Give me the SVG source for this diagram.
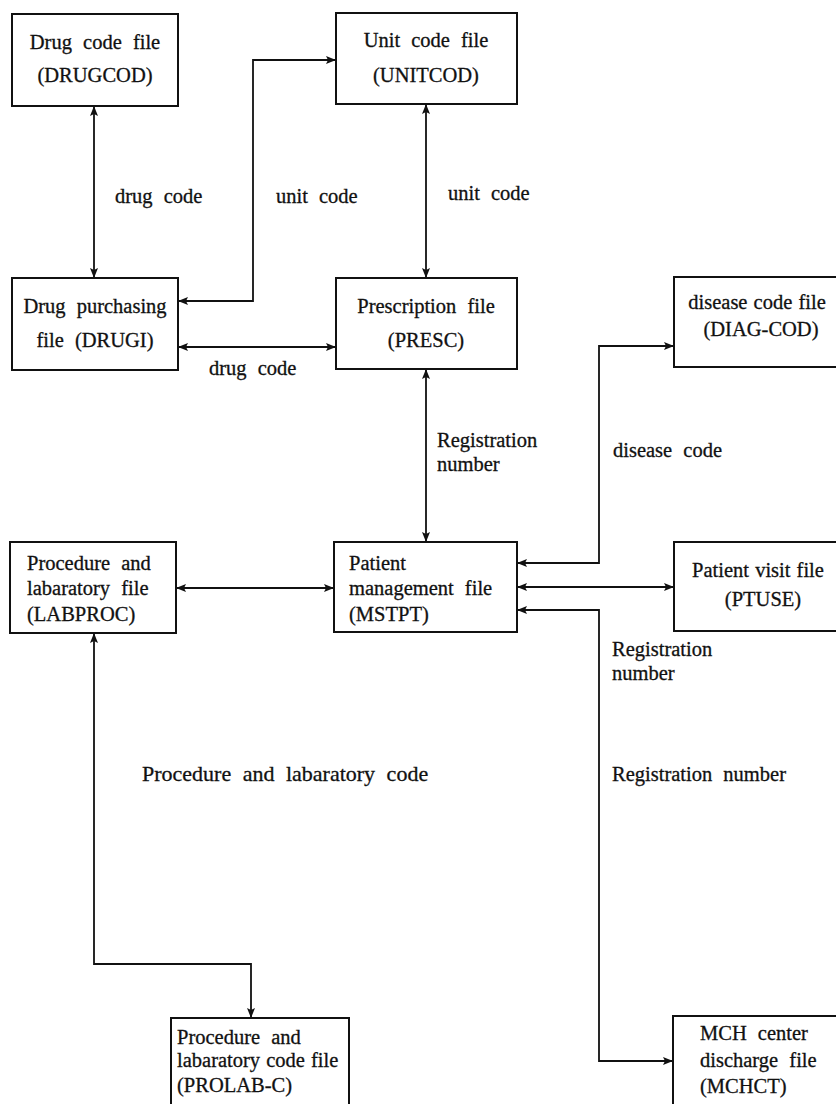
<svg xmlns="http://www.w3.org/2000/svg" width="836" height="1104" viewBox="0 0 836 1104">
  <style>
    .box { fill: #ffffff; stroke: #111111; stroke-width: 2; }
    .lbl { font-family: "Liberation Serif", "DejaVu Serif", serif; font-size: 20.5px; fill: #111111; stroke: #111111; stroke-width: 0.3; word-spacing: 6px; }
    .big { font-size: 22px; }
    .tight { word-spacing: 1px; }
    .c { text-anchor: middle; }
    .wire { fill: none; stroke: #111111; stroke-width: 1.8; marker-start: url(#head); marker-end: url(#head); }
  </style>
  <defs>
    <marker id="head" viewBox="0 0 10 8" refX="10" refY="4" markerWidth="10" markerHeight="8" markerUnits="userSpaceOnUse" orient="auto-start-reverse">
      <path d="M0,0 L10,4 L0,8 L2,4 z" fill="#111111"/>
    </marker>
  </defs>
  <rect width="836" height="1104" fill="#ffffff"/>

  <!-- connectors between the files -->
  <g id="connectors">
    <path class="wire" d="M94,106 L94,278"/>
    <path class="wire" d="M178,301 L253,301 L253,60 L336,60"/>
    <path class="wire" d="M426,104 L426,278"/>
    <path class="wire" d="M178,347 L336,347"/>
    <path class="wire" d="M426,369 L426,542"/>
    <path class="wire" d="M517,563 L599,563 L599,346 L674,346"/>
    <path class="wire" d="M517,587 L674,587"/>
    <path class="wire" d="M517,610 L599,610 L599,1061 L673,1061"/>
    <path class="wire" d="M176,588 L334,588"/>
    <path class="wire" d="M94,633 L94,964 L251,964 L251,1018"/>
  </g>

  <!-- connector labels -->
  <g id="labels">
    <text class="lbl" x="115" y="203">drug code</text>
    <text class="lbl" x="276" y="203">unit code</text>
    <text class="lbl" x="448" y="200">unit code</text>
    <text class="lbl" x="209" y="375">drug code</text>
    <text class="lbl" x="437" y="447">Registration</text>
    <text class="lbl" x="437" y="471">number</text>
    <text class="lbl" x="613" y="457">disease code</text>
    <text class="lbl" x="612" y="656">Registration</text>
    <text class="lbl" x="612" y="680">number</text>
    <text class="lbl big" x="142" y="781">Procedure and labaratory code</text>
    <text class="lbl" x="612" y="781">Registration number</text>
  </g>

  <g id="drugcod">
    <rect class="box" x="12" y="14" width="166" height="92"/>
    <text class="lbl c" x="95" y="49">Drug code file</text>
    <text class="lbl c" x="95" y="82">(DRUGCOD)</text>
  </g>

  <g id="unitcod">
    <rect class="box" x="336" y="13" width="181" height="91"/>
    <text class="lbl c" x="426" y="47">Unit code file</text>
    <text class="lbl c" x="426" y="82">(UNITCOD)</text>
  </g>

  <g id="drugi">
    <rect class="box" x="12" y="278" width="166" height="92"/>
    <text class="lbl c" x="95" y="313">Drug purchasing</text>
    <text class="lbl c" x="95" y="347">file (DRUGI)</text>
  </g>

  <g id="presc">
    <rect class="box" x="336" y="278" width="181" height="91"/>
    <text class="lbl c" x="426" y="313">Prescription file</text>
    <text class="lbl c" x="426" y="347">(PRESC)</text>
  </g>

  <g id="diagcod">
    <rect class="box" x="674" y="277" width="170" height="90"/>
    <text class="lbl c tight" x="757" y="309">disease code file</text>
    <text class="lbl c" x="761" y="336">(DIAG-COD)</text>
  </g>

  <g id="labproc">
    <rect class="box" x="10" y="542" width="166" height="91"/>
    <text class="lbl" x="27" y="570">Procedure and</text>
    <text class="lbl" x="27" y="595">labaratory file</text>
    <text class="lbl" x="27" y="621">(LABPROC)</text>
  </g>

  <g id="mstpt">
    <rect class="box" x="334" y="542" width="183" height="90"/>
    <text class="lbl" x="349" y="570">Patient</text>
    <text class="lbl" x="349" y="595">management file</text>
    <text class="lbl" x="349" y="621">(MSTPT)</text>
  </g>

  <g id="ptuse">
    <rect class="box" x="674" y="542" width="170" height="89"/>
    <text class="lbl c tight" x="758" y="577">Patient visit file</text>
    <text class="lbl c" x="763" y="606">(PTUSE)</text>
  </g>

  <g id="prolabc">
    <rect class="box" x="171" y="1018" width="178" height="100"/>
    <text class="lbl" x="177" y="1044">Procedure and</text>
    <text class="lbl tight" x="177" y="1067">labaratory code file</text>
    <text class="lbl" x="177" y="1092">(PROLAB-C)</text>
  </g>

  <g id="mchct">
    <rect class="box" x="673" y="1016" width="170" height="100"/>
    <text class="lbl" x="700" y="1040">MCH center</text>
    <text class="lbl" x="700" y="1067">discharge file</text>
    <text class="lbl" x="700" y="1093">(MCHCT)</text>
  </g>
</svg>
